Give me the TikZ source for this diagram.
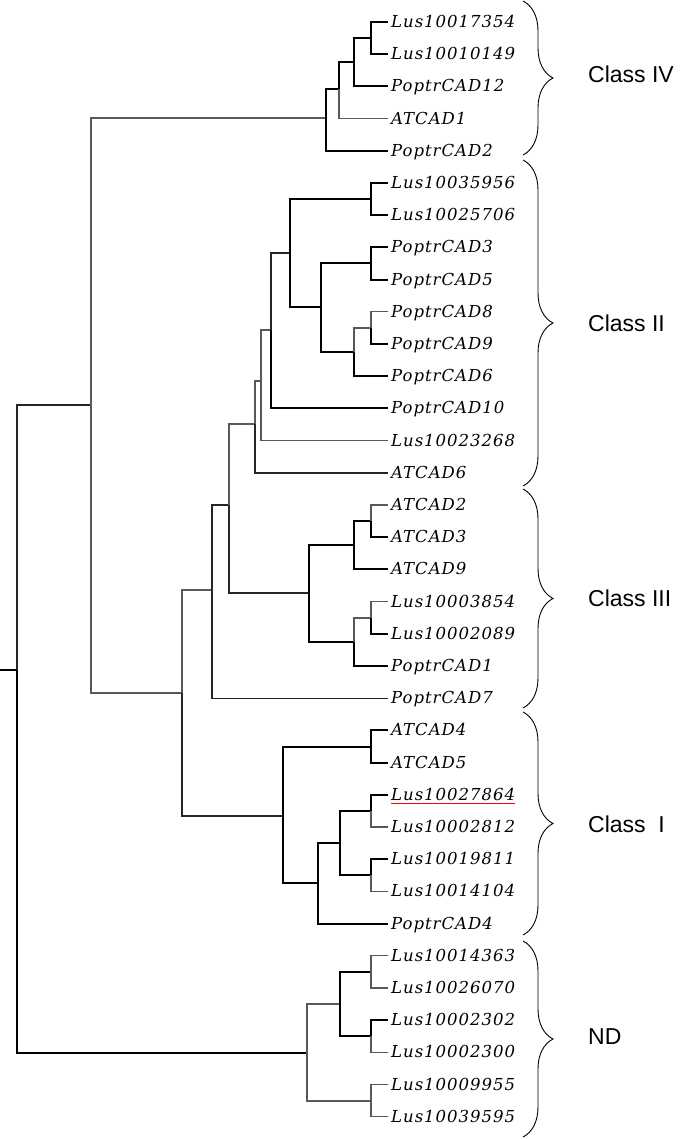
\documentclass[tikz,border=0pt]{standalone}
\usepackage{fontspec}
\newfontfamily\leaffont[LetterSpace=6]{DejaVu Serif}
\newfontfamily\classfont{Liberation Sans}
\usetikzlibrary{decorations.pathreplacing}

\tikzset{
  br/.style={line width=1.9pt,black},
  brm/.style={line width=1.4pt,black!85},
  brt/.style={line width=1.1pt,black!65},
  leaf/.style={anchor=west,inner xsep=3pt,inner ysep=0pt,text height=11pt,text depth=0pt,
    font=\leaffont\itshape\fontsize{16.5}{16.5}\selectfont},
  cls/.style={anchor=west,inner sep=0pt,font=\classfont\fontsize{23}{23}\selectfont},
  clade/.style={decorate,decoration={brace,amplitude=30pt},line width=0.9pt}
}

\begin{document}
\begin{tikzpicture}[x=1pt,y=-1pt]
\useasboundingbox (0,0) rectangle (685,1139);

% leaves
\foreach \n [count=\i from 0] in {Lus10017354,Lus10010149,PoptrCAD12,ATCAD1,PoptrCAD2,
    Lus10035956,Lus10025706,PoptrCAD3,PoptrCAD5,PoptrCAD8,PoptrCAD9,PoptrCAD6,PoptrCAD10,
    Lus10023268,ATCAD6,ATCAD2,ATCAD3,ATCAD9,Lus10003854,Lus10002089,PoptrCAD1,PoptrCAD7,
    ATCAD4,ATCAD5,Lus10027864,Lus10002812,Lus10019811,Lus10014104,PoptrCAD4,
    Lus10014363,Lus10026070,Lus10002302,Lus10002300,Lus10009955,Lus10039595}
  \node[leaf] (\n) at (388,{22+32.2*\i}) {\n};

% internal nodes
\coordinate (a1) at (371,38);
\coordinate (a2) at (354,62);
\coordinate (a3) at (339,89);
\coordinate (a4) at (326,118);
\coordinate (b1) at (371,199);
\coordinate (b2) at (371,263);
\coordinate (b3) at (371,328);
\coordinate (b4) at (354,352);
\coordinate (b5) at (321,307);
\coordinate (b6) at (290,253);
\coordinate (b7) at (271,330);
\coordinate (b8) at (261,381);
\coordinate (b9) at (255,424);
\coordinate (c1) at (371,521);
\coordinate (c2) at (354,545);
\coordinate (c3) at (371,618);
\coordinate (c4) at (354,642);
\coordinate (c5) at (309,593);
\coordinate (c6) at (229,505);
\coordinate (c7) at (212,590);
\coordinate (d1) at (371,747);
\coordinate (d2) at (371,811);
\coordinate (d3) at (371,875);
\coordinate (d4) at (340,843);
\coordinate (d5) at (318,883);
\coordinate (d6) at (283,816);
\coordinate (d7) at (182,693);
\coordinate (e1) at (91,405);
\coordinate (f1) at (371,972);
\coordinate (f2) at (371,1036);
\coordinate (f3) at (340,1004);
\coordinate (f4) at (371,1101);
\coordinate (f5) at (307,1053);
\coordinate (root) at (17,670);
\coordinate (stub) at (0,670);

% branches
\draw[br] (stub) -- (root);
\draw[brm] (root) |- (e1);
\draw[br] (root) |- (f5);
\draw[brt] (e1) |- (a4);
\draw[brt] (e1) |- (d7);

\draw[br] (a4) |- (a3);
\draw[br] (a4) |- (PoptrCAD2);
\draw[br] (a3) |- (a2);
\draw[brt] (a3) |- (ATCAD1);
\draw[br] (a2) |- (a1);
\draw[br] (a2) |- (PoptrCAD12);
\draw[br] (a1) |- (Lus10017354);
\draw[br] (a1) |- (Lus10010149);

\draw[brt] (d7) |- (c7);
\draw[brm] (d7) |- (d6);
\draw[brm] (c7) |- (c6);
\draw[brm] (c7) |- (PoptrCAD7);
\draw[brt] (c6) |- (b9);
\draw[brm] (c6) |- (c5);

\draw[brt] (b9) |- (b8);
\draw[brm] (b9) |- (ATCAD6);
\draw[brt] (b8) |- (b7);
\draw[brt] (b8) |- (Lus10023268);
\draw[brm] (b7) |- (b6);
\draw[br] (b7) |- (PoptrCAD10);
\draw[br] (b6) |- (b1);
\draw[br] (b6) |- (b5);
\draw[br] (b1) |- (Lus10035956);
\draw[br] (b1) |- (Lus10025706);
\draw[br] (b5) |- (b2);
\draw[br] (b5) |- (b4);
\draw[br] (b2) |- (PoptrCAD3);
\draw[br] (b2) |- (PoptrCAD5);
\draw[brt] (b4) |- (b3);
\draw[br] (b4) |- (PoptrCAD6);
\draw[brt] (b3) |- (PoptrCAD8);
\draw[br] (b3) |- (PoptrCAD9);

\draw[br] (c5) |- (c2);
\draw[br] (c5) |- (c4);
\draw[br] (c2) |- (c1);
\draw[br] (c2) |- (ATCAD9);
\draw[brt] (c1) |- (ATCAD2);
\draw[br] (c1) |- (ATCAD3);
\draw[brt] (c4) |- (c3);
\draw[br] (c4) |- (PoptrCAD1);
\draw[brt] (c3) |- (Lus10003854);
\draw[br] (c3) |- (Lus10002089);

\draw[br] (d6) |- (d1);
\draw[br] (d6) |- (d5);
\draw[br] (d1) |- (ATCAD4);
\draw[br] (d1) |- (ATCAD5);
\draw[br] (d5) |- (d4);
\draw[br] (d5) |- (PoptrCAD4);
\draw[br] (d4) |- (d2);
\draw[br] (d4) |- (d3);
\draw[br] (d2) |- (Lus10027864);
\draw[brt] (d2) |- (Lus10002812);
\draw[br] (d3) |- (Lus10019811);
\draw[brt] (d3) |- (Lus10014104);

\draw[brt] (f5) |- (f3);
\draw[brt] (f5) |- (f4);
\draw[br] (f3) |- (f1);
\draw[br] (f3) |- (f2);
\draw[brt] (f1) |- (Lus10014363);
\draw[brt] (f1) |- (Lus10026070);
\draw[br] (f2) |- (Lus10002302);
\draw[brt] (f2) |- (Lus10002300);
\draw[brt] (f4) |- (Lus10009955);
\draw[brt] (f4) |- (Lus10039595);

% underline
\draw[red,line width=1.2pt] ([xshift=3pt,yshift=-3pt]Lus10027864.south west) -- ([xshift=-3pt,yshift=-3pt]Lus10027864.south east);

% clades
\coordinate (IVt) at (523,1);
\coordinate (IVb) at (523,155);
\coordinate (IIt) at (523,160);
\coordinate (IIb) at (523,486);
\coordinate (IIIt) at (523,489);
\coordinate (IIIb) at (523,708);
\coordinate (It) at (523,712);
\coordinate (Ib) at (523,935);
\coordinate (NDt) at (523,941);
\coordinate (NDb) at (523,1137);
\draw[clade] (IVt) -- (IVb);
\draw[clade] (IIt) -- (IIb);
\draw[clade] (IIIt) -- (IIIb);
\draw[clade] (It) -- (Ib);
\draw[clade] (NDt) -- (NDb);
\node[cls] (clsIV) at (588,74) {Class IV};
\node[cls] (clsII) at (588,323) {Class II};
\node[cls] (clsIII) at (588,598) {Class III};
\node[cls] (clsI) at (588,824) {Class\ \ I};
\node[cls] (clsND) at (588,1037) {ND};
\end{tikzpicture}
\end{document}
